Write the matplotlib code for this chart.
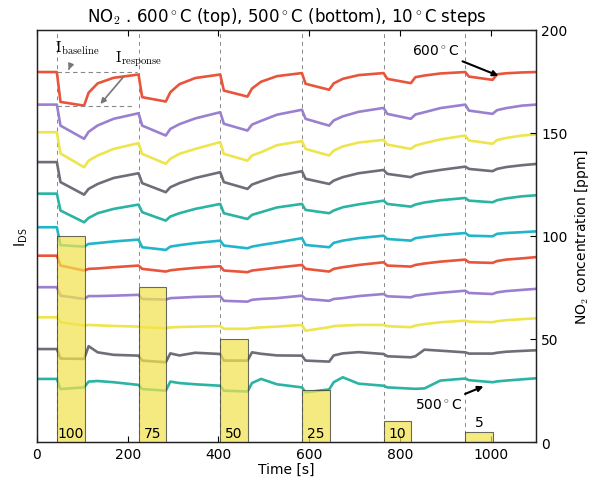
import numpy as np
import matplotlib.pyplot as plt

plt.rcParams['mathtext.fontset'] = 'cm'

# time grid (s) shared by all curves: start, pulse start, drop, pulse end, recovery points
t_pts = [0,
         44, 52, 104, 114, 134, 169,
         224, 232, 284, 294, 314, 349,
         404, 412, 464, 474, 494, 529,
         584, 592, 644, 654, 674, 709,
         764, 772, 824, 834, 854, 889,
         944, 952, 1004, 1014, 1034, 1069,
         1100]

# I_DS traces, 600 C (top) to 500 C (bottom), plotted on the 0-200 scale
c600 = [179.5, 179.5, 165, 163.2, 169.5, 174, 176.7, 178.3, 167.3, 165.2, 169.7, 173.6, 176.6,
        178.3, 170.5, 167.6, 171.5, 174.8, 177.5, 179, 173.8, 170.9, 174, 176.2, 178,
        179, 176.2, 174.1, 177, 177.8, 178.8, 179.5, 177.3, 175.7, 178.4, 178.9, 179.3, 179.5]
c590 = [163.7, 163.7, 153.5, 147.1, 150.5, 153.6, 156.8, 159.5, 153.5, 148.7, 151.9, 154.2, 157,
        160, 154.4, 151.1, 154, 155.8, 158.8, 161.2, 156.8, 153.5, 156, 158, 160.2,
        162.1, 159.2, 156.8, 158.9, 160, 162, 163.7, 160.8, 159.2, 161, 162, 163.2, 163.7]
c580 = [150.3, 150.3, 140, 133.3, 136.5, 139, 142.2, 145, 139.8, 135, 137.4, 139.8, 142.2,
        145.5, 139.8, 136.5, 139, 140.6, 144, 146, 142.2, 139, 141.4, 143.4, 145.3,
        146.6, 144.3, 142.2, 143.8, 145, 146.8, 148.7, 146.3, 144.7, 146.5, 147.5, 148.7, 149.2]
c570 = [135.8, 135.8, 126.1, 120, 122.8, 125.2, 128.1, 130.4, 125.6, 121.2, 123.6, 125.6, 128.1,
        130.9, 126.1, 122.8, 124.9, 126.5, 129, 131.4, 127.7, 125.2, 126.8, 128.5, 130.4,
        132, 130.1, 128.5, 129.7, 130.8, 132, 133.6, 132.5, 131.4, 132.5, 133.4, 134.3, 134.9]
c560 = [120.5, 120.5, 112.3, 106.6, 108.7, 111, 113.1, 115.2, 111.5, 107.4, 109.4, 111, 113.1,
        115.5, 111, 108.2, 110.2, 111.5, 113.8, 115.5, 112.6, 111, 112.3, 113.9, 115.3,
        117.1, 115.5, 114.2, 115.2, 116.2, 117.3, 118.4, 117.1, 116.3, 117.3, 118.2, 119.2, 119.7]
c550 = [104.2, 104.2, 95.5, 94.8, 96.1, 96.5, 97.3, 98.2, 94.5, 93.2, 94.8, 95.5, 96.5,
        97.7, 95.3, 94, 94.8, 95.6, 96.8, 98.9, 95.6, 94.5, 96.6, 97.7, 98.9,
        100.1, 98.5, 97.7, 98.9, 99.5, 100.4, 101.4, 100.1, 99.8, 101, 101.4, 101.8, 102.2]
c540 = [90.4, 90.4, 85.6, 83.2, 84, 84.2, 84.8, 85.6, 84, 82.7, 83.3, 83.8, 84.5,
        85.3, 83.2, 82.4, 83.2, 83.7, 84.6, 85.9, 84, 82.7, 84, 84.8, 85.9,
        87.2, 85.6, 85.1, 85.9, 86.6, 87.5, 88.5, 87.2, 86.9, 87.8, 88.5, 89.1, 89.7]
c530 = [75.1, 75.1, 71, 69.4, 70.8, 70.8, 71, 71.4, 69.4, 69.1, 69.8, 70, 70.4,
        70.7, 68.5, 68.1, 69, 69.4, 69.8, 71, 69.4, 68.5, 69.4, 69.8, 70.8,
        71.8, 70.7, 70.2, 71, 71.6, 72.4, 73.4, 72.3, 71.8, 72.6, 73.2, 73.8, 74.3]
c520 = [60.5, 60.5, 58.1, 56.5, 56.8, 56.6, 56.3, 56, 55.7, 55.2, 55.6, 55.8, 56,
        56.2, 54.9, 54.9, 55.3, 55.6, 56, 56.8, 54, 55.7, 56.2, 56.5, 56.8,
        56.8, 56.2, 55.7, 56.5, 57.2, 58.1, 58.9, 58.4, 58.1, 58.6, 59.1, 59.6, 60]
c510 = [45.1, 45.1, 40.5, 40.3, 46.5, 43.5, 42.3, 41.9, 39.5, 38.7, 43, 42, 43.3,
        42.7, 39.5, 39.5, 43.5, 42.8, 42, 41.9, 39.5, 39, 42, 43, 43.6,
        42.7, 41.6, 41.1, 41.6, 44.8, 44.3, 43.5, 42.9, 42.9, 43.3, 43.8, 44.2, 44.5]
c500 = [30.6, 30.6, 25.7, 26.5, 29.3, 29.6, 29, 27.7, 25.7, 24.9, 29.3, 28.6, 28,
        27.3, 24.9, 24.5, 28.6, 30.6, 28, 26.5, 24.1, 25.5, 29, 31.4, 28.3,
        27.3, 26.5, 25.9, 25.8, 26, 29.8, 30.8, 30, 29, 29.4, 29.8, 30.4, 30.9]

curves = [c600, c590, c580, c570, c560, c550, c540, c530, c520, c510, c500]
colors = ['#e8553b', '#9b80d0', '#eee54e', '#6e6e78', '#2bb3a3',
          '#22b5c9', '#e8553b', '#9b80d0', '#eee54e', '#6e6e78', '#2bb3a3']

# NO2 pulses
pulse_start = [44, 224, 404, 584, 764, 944]
pulse_len = 61
ppm = [100, 75, 50, 25, 10, 5]

fig = plt.figure(figsize=(5.95, 4.81), dpi=100)
ax = fig.add_axes([0.062, 0.079, 0.839, 0.857])

for y, c in zip(curves, colors):
    ax.plot(t_pts, y, color=c, lw=1.9)

for s in pulse_start:
    ax.axvline(s, color='#888888', lw=0.7, ls=(0, (4, 4)), zorder=0)

ax.set_xlim(0, 1100)
ax.set_ylim(0, 200)
ax.set_yticks([])
ax.set_xticks(range(0, 1001, 200))
ax.tick_params(axis='x', direction='in', top=True, length=4, labelsize=10)
ax.set_xlabel('Time [s]', fontsize=10, labelpad=1)
ax.set_ylabel(r'$\mathsf{I}_{\mathsf{DS}}$', fontsize=11, labelpad=5)
ax.set_title(r'NO$_\mathsf{2}$ . 600$^\circ$C (top), 500$^\circ$C (bottom), 10$^\circ$C steps',
             fontsize=12, pad=6)

# baseline / response markers
ax.plot([44, 220], [179.5, 179.5], color='#888888', lw=0.8, ls=(0, (4, 3)))
ax.plot([44, 215], [163.2, 163.2], color='#888888', lw=0.8, ls=(0, (4, 3)))
ax.annotate(r'$\mathrm{I}_{\mathrm{baseline}}$', xy=(70, 180.6), xytext=(40, 191.5),
            fontsize=11, va='center',
            arrowprops=dict(arrowstyle='-|>', color='#777777', lw=1.2,
                            shrinkA=8, shrinkB=0, mutation_scale=8))
ax.annotate(r'$\mathrm{I}_{\mathrm{response}}$', xy=(140, 164), xytext=(173, 186),
            fontsize=11, va='center',
            arrowprops=dict(arrowstyle='-|>', color='#777777', lw=1.2,
                            shrinkA=6, shrinkB=0, mutation_scale=8))

ax.annotate(r'600$^\circ$C', xy=(1017, 177.7), xytext=(826, 190),
            fontsize=10, va='center',
            arrowprops=dict(arrowstyle='-|>', color='black', lw=1.5,
                            shrinkA=2, shrinkB=0, mutation_scale=8))
ax.annotate(r'500$^\circ$C', xy=(984, 27), xytext=(833, 18),
            fontsize=10, va='center',
            arrowprops=dict(arrowstyle='-|>', color='black', lw=1.5,
                            shrinkA=2, shrinkB=0, mutation_scale=8))

ax2 = ax.twinx()
ax2.bar(pulse_start, ppm, width=pulse_len, align='edge', color='#f2e34e', alpha=0.72,
        edgecolor='#333333', linewidth=0.8)
for s, p in zip(pulse_start, ppm):
    yl = 1 if p > 8 else p + 1.5
    ax2.text(s + pulse_len / 2, yl, str(p), ha='center', va='bottom', fontsize=10)
ax2.set_ylim(0, 200)
ax2.set_yticks([0, 50, 100, 150, 200])
ax2.tick_params(axis='y', direction='in', length=4, labelsize=10)
ax2.set_ylabel(r'NO$_\mathsf{2}$ concentration [ppm]', fontsize=10)

for a in (ax, ax2):
    for sp in a.spines.values():
        sp.set_color('#222222')
        sp.set_linewidth(0.9)

fig.savefig('out.png', dpi=100)
